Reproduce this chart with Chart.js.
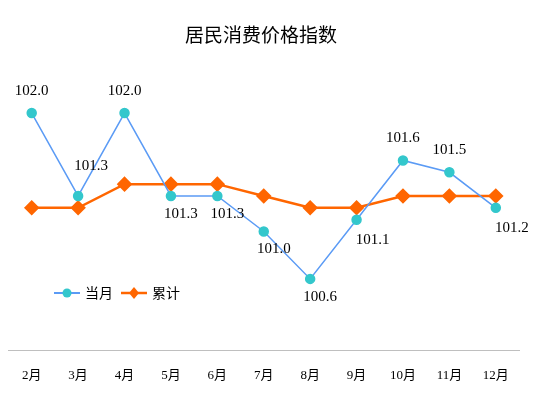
<!DOCTYPE html>
<html>
<head>
<meta charset="utf-8">
<script src="https://cdn.jsdelivr.net/npm/chart.js@4.4.0/dist/chart.umd.min.js"></script>
<style>
  html, body { margin: 0; padding: 0; background: #fff; }
  #wrap { width: 538px; height: 395px; position: relative; }
</style>
</head>
<body>
<div id="wrap"><canvas id="cpi"></canvas></div>
<script>
// data
const months = ['2月', '3月', '4月', '5月', '6月', '7月', '8月', '9月', '10月', '11月', '12月'];
const monthly = [102.0, 101.3, 102.0, 101.3, 101.3, 101.0, 100.6, 101.1, 101.6, 101.5, 101.2];
const cumulative = [101.2, 101.2, 101.4, 101.4, 101.4, 101.3, 101.2, 101.2, 101.3, 101.3, 101.3];
// where each 当月 label sits relative to its point
const labelPos = ['top', 'topRight', 'top', 'bottom', 'bottom', 'bottom', 'bottom', 'bottomRight', 'top', 'top', 'bottomRight'];

const numFont = "15px 'Liberation Serif', 'Noto Sans CJK SC', serif";

const labelPlugin = {
    id: 'pointLabels',
    afterDatasetsDraw(chart) {
        const ctx = chart.ctx;
        const meta = chart.getDatasetMeta(0);
        ctx.save();
        ctx.font = numFont;
        ctx.fillStyle = '#000';
        ctx.textAlign = 'center';
        ctx.textBaseline = 'middle';
        meta.data.forEach((pt, i) => {
            let dx = 0, dy = -22;
            const pos = labelPos[i];
            if (pos === 'topRight') { dx = 13; dy = -30; }
            if (pos === 'bottom') { dx = 10; dy = 18; }
            if (pos === 'bottomRight') { dx = 16; dy = 20; }
            ctx.fillText(monthly[i].toFixed(1), pt.x + dx, pt.y + dy);
        });
        ctx.restore();
    }
};

// legend drawn inside the plot, lower left
const legendPlugin = {
    id: 'innerLegend',
    afterDraw(chart) {
        const ctx = chart.ctx;
        const y = 293;
        ctx.save();
        ctx.font = "14px 'Noto Sans CJK SC', sans-serif";
        ctx.textBaseline = 'middle';
        // 当月
        ctx.strokeStyle = '#5b9bf5';
        ctx.lineWidth = 2;
        ctx.beginPath(); ctx.moveTo(54, y); ctx.lineTo(80, y); ctx.stroke();
        ctx.fillStyle = '#33c7cc';
        ctx.beginPath(); ctx.arc(67, y, 4.5, 0, Math.PI * 2); ctx.fill();
        ctx.fillStyle = '#000';
        ctx.fillText('当月', 85, y);
        // 累计
        ctx.strokeStyle = '#ff6600';
        ctx.lineWidth = 2.5;
        ctx.beginPath(); ctx.moveTo(121, y); ctx.lineTo(147, y); ctx.stroke();
        ctx.fillStyle = '#ff6600';
        ctx.beginPath();
        ctx.moveTo(134, y - 6); ctx.lineTo(139, y); ctx.lineTo(134, y + 6); ctx.lineTo(129, y);
        ctx.closePath(); ctx.fill();
        ctx.fillStyle = '#000';
        ctx.fillText('累计', 152, y);
        ctx.restore();
    }
};

new Chart(document.getElementById('cpi'), {
    type: 'line',
    data: {
        labels: months,
        datasets: [{
            label: '当月',
            data: monthly,
            borderColor: '#5b9bf5',
            borderWidth: 1.5,
            pointBackgroundColor: '#33c7cc',
            pointBorderColor: '#33c7cc',
            pointRadius: 4.5,
            pointStyle: 'circle',
            tension: 0
        }, {
            label: '累计',
            data: cumulative,
            borderColor: '#ff6600',
            borderWidth: 2.5,
            pointBackgroundColor: '#ff6600',
            pointBorderColor: '#ff6600',
            pointRadius: 6,
            pointStyle: 'rectRot',
            tension: 0
        }]
    },
    options: {
        responsive: true,
        maintainAspectRatio: false,
        animation: false,
        layout: { padding: { left: 3, right: 19, top: 0, bottom: 0 } },
        plugins: {
            legend: { display: false },
            tooltip: { enabled: false },
            title: {
                display: true,
                text: '居民消费价格指数',
                color: '#000',
                font: { family: "'Noto Sans CJK SC', sans-serif", size: 19, weight: 'normal' },
                padding: { top: 23, bottom: 8 }
            }
        },
        scales: {
            x: {
                offset: true,
                grid: { display: true, drawOnChartArea: false, drawTicks: false, color: 'rgba(0,0,0,0)' },
                border: { display: true, color: '#bfbfbf', width: 1 },
                ticks: {
                    color: '#000',
                    padding: 18,
                    maxRotation: 0,
                    font: { family: "'Liberation Serif', 'Noto Sans CJK SC', serif", size: 13 }
                },
                afterFit(scale) { scale.height = 45; }
            },
            y: {
                display: false,
                min: 100,
                max: 102.5
            }
        }
    },
    plugins: [labelPlugin, legendPlugin]
});
</script>
</body>
</html>
